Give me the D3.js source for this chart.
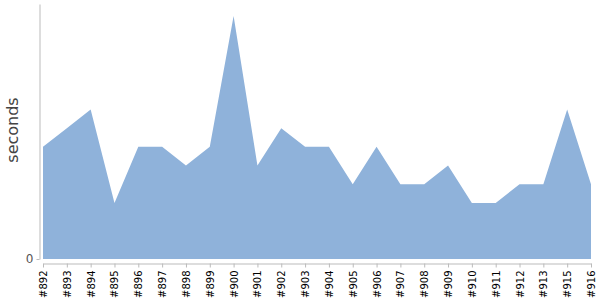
<!DOCTYPE html>
<html><head><meta charset="utf-8">
<script src="https://cdn.jsdelivr.net/npm/d3@7"></script>
<style>body{margin:0;background:#fff}svg{display:block}</style>
</head><body>
<svg id="c" width="600" height="300"></svg>
<script>
const builds = ["#892","#893","#894","#895","#896","#897","#898","#899","#900","#901","#902","#903","#904","#905","#906","#907","#908","#909","#910","#911","#912","#913","#915","#916"];
const seconds = [6,7,8,3,6,6,5,6,13,5,7,6,6,4,6,4,4,5,3,3,4,4,8,4];
const yTicks = [0];

const svg = d3.select("#c");
const x = d3.scalePoint().domain(builds).range([43, 591]);
const y = d3.scaleLinear().domain([0, 13.64]).range([259, 4]);

const data = builds.map((b,i)=>({b, v: seconds[i]}));
svg.append("path").datum(data)
  .attr("fill","#8fb2da")
  .attr("d", d3.area().x(d=>x(d.b)).y0(y(0)).y1(d=>y(d.v)));

const ya = svg.append("g").attr("transform","translate(39.5,0)")
  .call(d3.axisLeft(y).tickValues(yTicks).tickSize(3).tickSizeOuter(0));
ya.select(".domain").attr("stroke","#bbb");
ya.selectAll(".tick line").attr("stroke","#bbb");
ya.selectAll(".tick text").attr("fill","#555").attr("font-family","DejaVu Sans").attr("font-size",12);

const xa = svg.append("g").attr("transform","translate(0,263.5)")
  .call(d3.axisBottom(x).tickSize(4).tickSizeOuter(0));
xa.select(".domain").attr("stroke","#bbb");
xa.selectAll(".tick line").attr("stroke","#bbb");
xa.selectAll(".tick text")
  .attr("fill","#000").attr("font-family","DejaVu Sans").attr("font-size",10)
  .attr("text-anchor","end").attr("transform","rotate(-90)")
  .attr("x",-7).attr("y",0).attr("dy","0.35em");

svg.append("text").text("seconds")
  .attr("transform","translate(18,130) rotate(-90)")
  .attr("text-anchor","middle").attr("font-family","DejaVu Sans")
  .attr("font-size",16).attr("fill","#444");
</script>
</body></html>
